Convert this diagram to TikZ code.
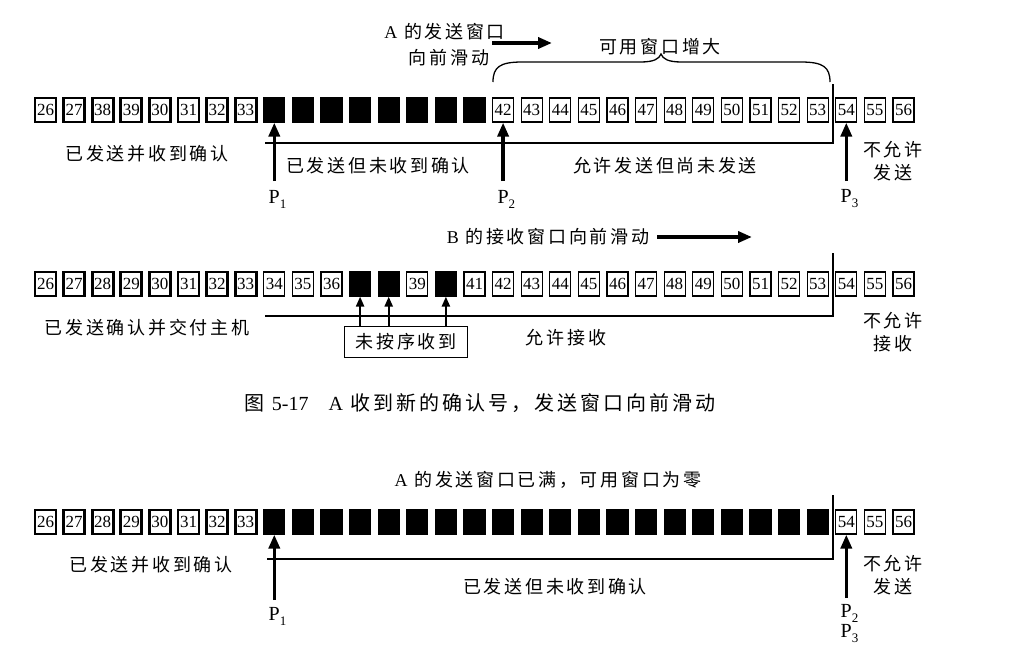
\documentclass[tikz,border=0pt]{standalone}
\usepackage{fontspec}
\setmainfont{Liberation Serif}
\newfontfamily\cjkfam[LetterSpace=15]{Noto Sans CJK SC}
\usetikzlibrary{arrows.meta}
\newcommand\lblfont{\cjkfam\fontsize{18}{23}\selectfont}
\newcommand\capfont{\cjkfam\fontsize{20}{23}\selectfont}
\newcommand\Psub[1]{P\rlap{\raisebox{-5pt}{\fontsize{13}{13}\selectfont #1}}}
\begin{document}
\begin{tikzpicture}[x=1pt,y=-1pt,
  cell/.style={draw, line width=1.2pt, minimum width=21pt, minimum height=24pt, inner sep=0pt, font=\fontsize{17}{17}\selectfont},
  acked/.style={cell, line width=2.8pt},
  blk/.style={cell, fill=black},
  lbl/.style={inner sep=0pt, font=\lblfont, align=center},
  plbl/.style={inner sep=0pt, font=\fontsize{20}{20}\selectfont},
  ptr/.style={line width=3.5pt, -{Triangle[length=14pt,width=11pt]}},
  slide/.style={line width=3.5pt, -{Triangle[length=14pt,width=11pt]}},
  oop/.style={line width=2.2pt, -{Triangle[length=10pt,width=8pt]}},
  frame/.style={line width=2pt},
  oopbox/.style={draw, line width=1.2pt, minimum width=123pt, minimum height=31pt, inner sep=0pt, font=\lblfont},
]
\fill[white] (0,0) rectangle (1023,654);
\useasboundingbox (0,0) rectangle (1023,654);

% ---------------- Row 1 ----------------
\foreach \n [count=\i from 0] in {26,27,38,39,30,31,32,33}
  {\pgfmathsetmacro\cx{45.5+\i*28.6}\node[acked] (a\i) at (\cx,110) {\n};}
\foreach \i in {8,...,15}
  {\pgfmathsetmacro\cx{45.5+\i*28.6}\node[blk] (a\i) at (\cx,110) {};}
\foreach \n [count=\i from 16] in {42,...,56}
  {\pgfmathsetmacro\cx{45.5+\i*28.6}\node[cell] (a\i) at (\cx,110) {\n};}

\coordinate (aL) at (265,143);
\coordinate (aC) at (833,143);
\coordinate (aT) at (833,84);
\draw[frame] (aL) -- (aC) -- (aT);

\draw[line width=1.3pt] (493,82) .. controls (493,67) and (500,62) .. (522,62)
  -- (640,62) .. controls (654,62) and (659,59) .. (661,54)
  .. controls (663,59) and (668,62) .. (682,62) -- (801,62)
  .. controls (823,62) and (830,67) .. (830,82);

\node[lbl] (agrow) at (660,47) {可用窗口增大};
\node[lbl, anchor=east] (atitle1) at (505,32) {{\rmfamily A} 的发送窗口};
\node[lbl] (atitle2) at (449,58) {向前滑动};
\coordinate (as1) at (492,43);
\coordinate (as2) at (552,43);
\draw[slide] (as1) -- (as2);

\node[lbl] (aacked) at (147,154) {已发送并收到确认};
\node[lbl] (asent) at (378,166) {已发送但未收到确认};
\node[lbl] (ausable) at (665,166) {允许发送但尚未发送};
\node[lbl] (ano) at (893,161) {不允许\\发送};

\node[plbl] (p1) at (a8 |- 0,199) {\Psub{1}};
\node[plbl] (p2) at (a16 |- 0,199) {\Psub{2}};
\node[plbl] (p3) at (a28 |- 0,199) {\Psub{3}};
\coordinate (t1) at (a8 |- 0,181);
\coordinate (t2) at (a16 |- 0,181);
\coordinate (t3) at (a28 |- 0,181);
\draw[ptr] (t1) -- (a8.south);
\draw[ptr] (t2) -- (a16.south);
\draw[ptr] (t3) -- (a28.south);

% ---------------- Row 2 ----------------
\foreach \n [count=\i from 0] in {26,27,28,29,30,31,32,33}
  {\pgfmathsetmacro\cx{45.5+\i*28.6}\node[acked] (b\i) at (\cx,284) {\n};}
\foreach \n [count=\i from 8] in {34,35,36}
  {\pgfmathsetmacro\cx{45.5+\i*28.6}\node[cell] (b\i) at (\cx,284) {\n};}
\foreach \i in {11,12,14}
  {\pgfmathsetmacro\cx{45.5+\i*28.6}\node[blk] (b\i) at (\cx,284) {};}
\node[cell] (b13) at (45.5+13*28.6,284) {39};
\foreach \n [count=\i from 15] in {41,...,56}
  {\pgfmathsetmacro\cx{45.5+\i*28.6}\node[cell] (b\i) at (\cx,284) {\n};}

\node[lbl] (btitle) at (548,237) {{\rmfamily B} 的接收窗口向前滑动};
\coordinate (bs1) at (657,237);
\coordinate (bs2) at (752,237);
\draw[slide] (bs1) -- (bs2);

\coordinate (bL) at (265,316);
\coordinate (bC) at (833,316);
\coordinate (bT) at (833,253);
\draw[frame] (bL) -- (bC) -- (bT);

\node[oopbox] (oop) at (406,342) {未按序收到};
\draw[oop] (oop.north -| b11) -- (b11.south);
\draw[oop] (oop.north -| b12) -- (b12.south);
\draw[oop] (oop.north -| b14) -- (b14.south);

\node[lbl] (backed) at (147,328) {已发送确认并交付主机};
\node[lbl] (bok) at (566,338) {允许接收};
\node[lbl] (bno) at (893,332) {不允许\\接收};

% ---------------- Caption ----------------
\node[inner sep=0pt, font=\capfont] (caption) at (480,403) {图 {\rmfamily 5-17}\quad{\rmfamily A} 收到新的确认号，发送窗口向前滑动};

% ---------------- Row 3 ----------------
\node[lbl] (ctitle) at (548,480) {{\rmfamily A} 的发送窗口已满，可用窗口为零};
\foreach \n [count=\i from 0] in {26,27,28,29,30,31,32,33}
  {\pgfmathsetmacro\cx{45.5+\i*28.6}\node[acked] (c\i) at (\cx,522) {\n};}
\foreach \i in {8,...,27}
  {\pgfmathsetmacro\cx{45.5+\i*28.6}\node[blk] (c\i) at (\cx,522) {};}
\foreach \n [count=\i from 28] in {54,55,56}
  {\pgfmathsetmacro\cx{45.5+\i*28.6}\node[cell] (c\i) at (\cx,522) {\n};}

\coordinate (cL) at (267,559);
\coordinate (cC) at (833,559);
\coordinate (cT) at (833,495);
\draw[frame] (cL) -- (cC) -- (cT);

\node[lbl] (cacked) at (151,565) {已发送并收到确认};
\node[lbl] (csent) at (555,587) {已发送但未收到确认};
\node[lbl] (cno) at (893,575) {不允许\\发送};

\node[plbl] (q1) at (c8 |- 0,616) {\Psub{1}};
\node[plbl] (q2) at (c28 |- 0,613) {\Psub{2}};
\node[plbl] (q3) at (c28 |- 0,634) {\Psub{3}};
\coordinate (u1) at (c8 |- 0,600);
\coordinate (u2) at (c28 |- 0,598);
\draw[ptr] (u1) -- (c8.south);
\draw[ptr] (u2) -- (c28.south);
\end{tikzpicture}
\end{document}
